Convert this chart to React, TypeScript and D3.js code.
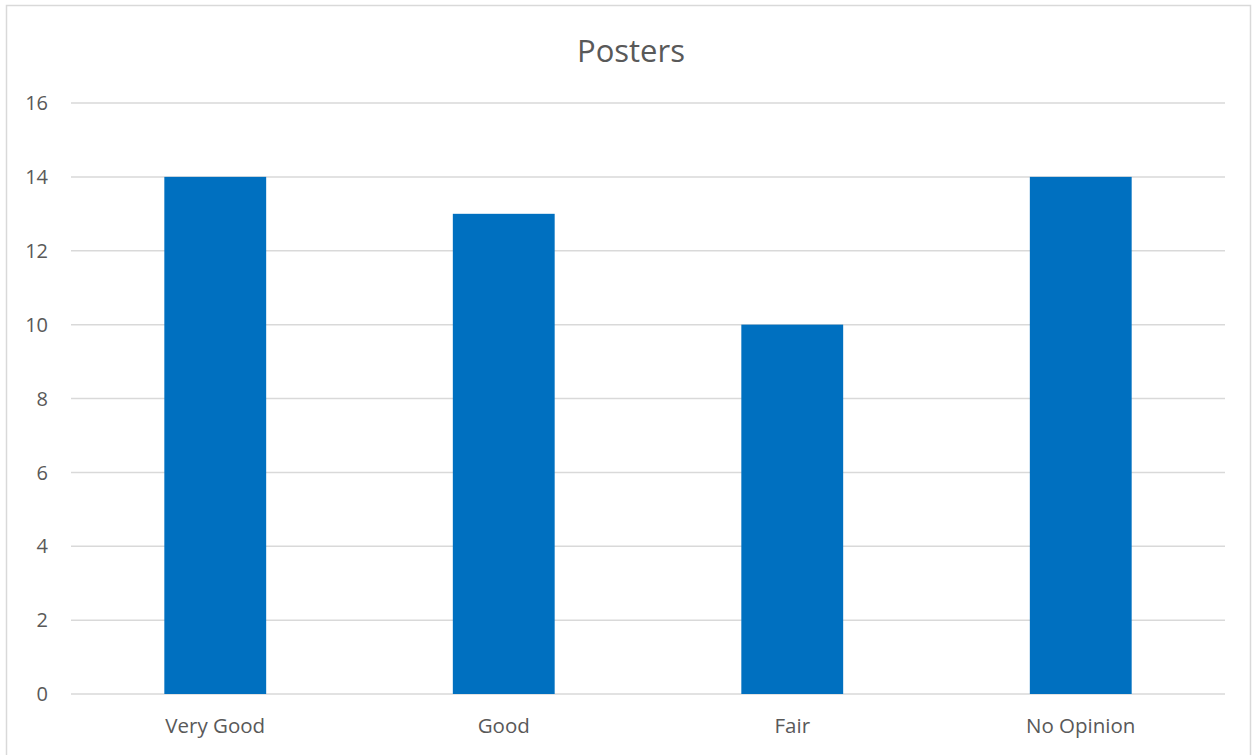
import React from "react";
import * as d3 from "d3";

const categories = ["Very Good", "Good", "Fair", "No Opinion"];
const values = [14, 13, 10, 14];
const yTicks = [0, 2, 4, 6, 8, 10, 12, 14, 16];
const title = "Posters";

export default function App() {
  const W = 1255, H = 755;
  const left = 71, right = 1225, top = 103, bottom = 694;
  const x = d3.scaleBand<string>().domain(categories).range([left, right]).paddingInner(0.647).paddingOuter(0.3235);
  const y = d3.scaleLinear().domain([0, 16]).range([bottom, top]);
  const font = "'Open Sans', sans-serif";
  return (
    <svg width={W} height={H} style={{ position: "absolute", left: 0, top: 0, background: "#fff" }}>
      <rect x={6.5} y={5.5} width={1244} height={770} fill="#fff" stroke="#d9d9d9" strokeWidth={1.5} />
      <text x={631} y={62} textAnchor="middle" fontFamily={font} fontSize={31} fill="#595959">{title}</text>
      {yTicks.map(t => (
        <g key={t}>
          <line x1={left} x2={right} y1={y(t)} y2={y(t)} stroke="#d9d9d9" strokeWidth={1.5} />
          <text x={48} y={y(t)} dy="0.36em" textAnchor="end" fontFamily={font} fontSize={20} fill="#595959">{t}</text>
        </g>
      ))}
      {categories.map((c, i) => (
        <rect key={c} x={x(c)} y={y(values[i])} width={x.bandwidth()} height={y(0) - y(values[i])} fill="#0070c0" />
      ))}
      {categories.map(c => (
        <text key={c} x={(x(c) as number) + x.bandwidth() / 2} y={733} textAnchor="middle" fontFamily={font} fontSize={20.5} fill="#595959">{c}</text>
      ))}
    </svg>
  );
}
